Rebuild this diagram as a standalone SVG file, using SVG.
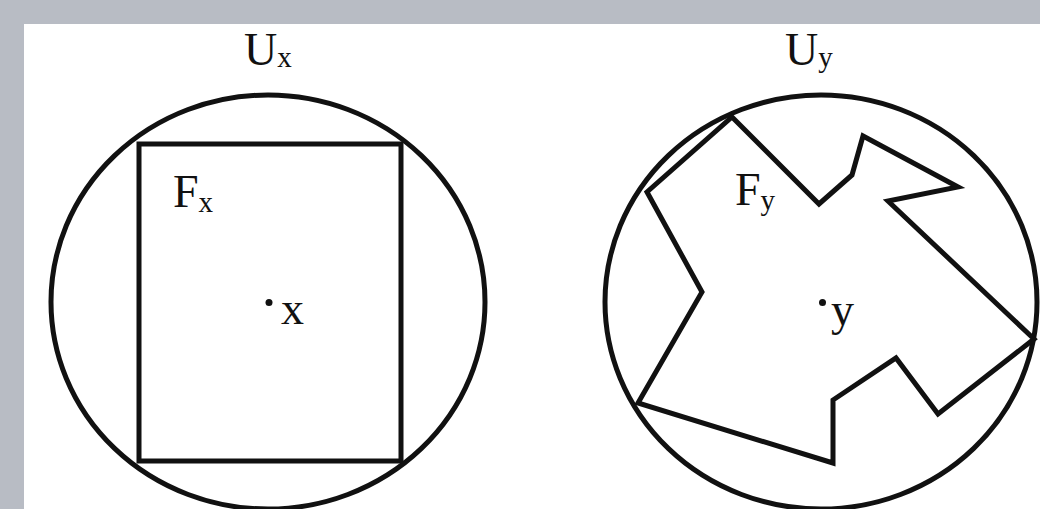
<svg xmlns="http://www.w3.org/2000/svg" width="1040" height="509" viewBox="0 0 1040 509">
  <style>
    .shape { fill: none; stroke: #111; stroke-width: 5; stroke-linejoin: miter; }
    .lbl { font-family: "Liberation Serif", "Times New Roman", serif; font-size: 46px; fill: #111; }
    .sub { font-size: 29px; }
    .pt { fill: #111; }
  </style>
  <rect x="0" y="0" width="1040" height="509" fill="#b8bcc4"/>
  <rect x="24" y="24" width="1016" height="485" fill="#ffffff"/>

  <g id="Ux">
    <ellipse class="shape" cx="268" cy="302" rx="217" ry="207"/>
    <text class="lbl" x="244" y="65">U<tspan class="sub" dy="2">x</tspan></text>
  </g>
  <g id="Fx">
    <rect class="shape" x="139" y="144" width="262" height="317"/>
    <text class="lbl" x="173" y="207">F<tspan class="sub" dy="5">x</tspan></text>
  </g>
  <g id="x">
    <circle class="pt" cx="269" cy="302.5" r="3.5"/>
    <text class="lbl" x="281" y="324">x</text>
  </g>

  <g id="Uy">
    <ellipse class="shape" cx="821" cy="302" rx="216" ry="207"/>
    <text class="lbl" x="785" y="65">U<tspan class="sub" dy="2">y</tspan></text>
  </g>
  <g id="Fy">
    <polygon class="shape" points="732,117 819,204 852,175 863,136 958,187 888,201 1034,339 938,414 896,358 833,400 833,463 638,403 702,292 647,192"/>
    <text class="lbl" x="735" y="205">F<tspan class="sub" dy="5">y</tspan></text>
  </g>
  <g id="y">
    <circle class="pt" cx="822.5" cy="302.5" r="3.5"/>
    <text class="lbl" x="831" y="325">y</text>
  </g>
</svg>
